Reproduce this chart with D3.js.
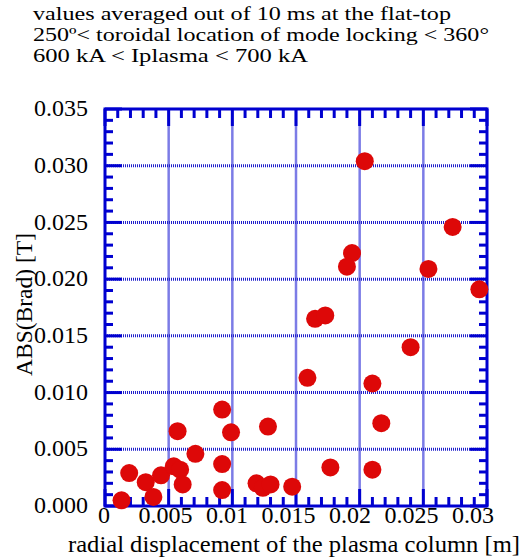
<!DOCTYPE html>
<html>
<head>
<meta charset="utf-8">
<script src="https://cdn.jsdelivr.net/npm/d3@7"></script>
<style>
  body { margin: 0; background: #fff; }
</style>
</head>
<body>
<svg id="chart" width="532" height="559"></svg>
<script>
// radial displacement [m]
var xVals = [0.0013, 0.0019, 0.0032, 0.0038, 0.0044, 0.0054, 0.0059, 0.0061, 0.0057, 0.0071,
             0.0092, 0.0099, 0.0092, 0.0092, 0.0119, 0.0124, 0.0130, 0.0128, 0.0147, 0.0159,
             0.0165, 0.0173, 0.0177, 0.0210, 0.0217, 0.0210, 0.0240, 0.0204, 0.0194, 0.0190,
             0.0273, 0.0254, 0.0294]
// ABS(Brad) [T]
var yVals = [0.0005, 0.0029, 0.0021, 0.0008, 0.0027, 0.0035, 0.0032, 0.0019, 0.0066, 0.0046,
             0.0085, 0.0065, 0.0037, 0.0014, 0.0020, 0.0016, 0.0019, 0.0070, 0.0017, 0.0113,
             0.0165, 0.0168, 0.0034, 0.0108, 0.0073, 0.0032, 0.0140, 0.0304, 0.0223, 0.0211,
             0.0246, 0.0209, 0.0191]

var xTicks = [0, 0.005, 0.01, 0.015, 0.02, 0.025, 0.03]
var xTickLabels = ["0", "0.005", "0.01", "0.015", "0.02", "0.025", "0.03"]
var yTicks = [0, 0.005, 0.01, 0.015, 0.02, 0.025, 0.03, 0.035]
var yTickLabels = ["0.000", "0.005", "0.010", "0.015", "0.020", "0.025", "0.030", "0.035"]

var titleLines = [
  "values averaged out of 10 ms at the flat-top",
  "250\u00ba< toroidal location of mode locking < 360\u00b0",
  "600 kA < Iplasma < 700 kA"
]
var titleWidths = [418, 456, 275]

var serif = "'Liberation Serif'";

var svg = d3.select("#chart"),
    margin = {top: 109, right: 45, bottom: 53, left: 105},
    width  = +svg.attr("width")  - margin.left - margin.right,
    height = +svg.attr("height") - margin.top  - margin.bottom;

var blue = "#0000d0";

var x = d3.scaleLinear().domain([0, 0.03]).range([0, width]);
var y = d3.scaleLinear().domain([0, 0.035]).range([height, 0]);
// tick labels sit a little left of their ticks in the original
var xLab = d3.scaleLinear().domain([0, 0.03]).range([-1, width - 14]);

// title (text in the original is a bit wider than plain Times)
svg.append("g").selectAll("text")
  .data(titleLines)
  .enter().append("text")
    .attr("x", 33)
    .attr("y", function(d, i) { return 20 + i * 21; })
    .attr("textLength", function(d, i) { return titleWidths[i]; })
    .attr("lengthAdjust", "spacingAndGlyphs")
    .style("font-family", serif)
    .style("font-size", "19px")
    .text(function(d) { return d; });

var g = svg.append("g")
  .attr("transform", "translate(" + margin.left + "," + margin.top + ")");

// vertical grid
g.append("g").selectAll("line")
  .data(xTicks.slice(1, -1))
  .enter().append("line")
    .attr("x1", function(d) { return x(d); })
    .attr("x2", function(d) { return x(d); })
    .attr("y1", 0).attr("y2", height)
    .attr("stroke", "#5050dd")
    .attr("stroke-opacity", 0.75)
    .attr("stroke-width", 2.5);

// horizontal grid (dotted)
g.append("g").selectAll("line")
  .data(yTicks.slice(1, -1))
  .enter().append("line")
    .attr("x1", 0).attr("x2", width)
    .attr("y1", function(d) { return y(d); })
    .attr("y2", function(d) { return y(d); })
    .attr("stroke", "#2020cc")
    .attr("stroke-width", 3)
    .attr("stroke-dasharray", "1,1");

// minor / major ticks, drawn inward on all four sides
var minorX = d3.range(0, 31).map(function(i) { return i * 0.001; });
var minorY = d3.range(0, 36).map(function(i) { return i * 0.001; });

function isMajor(v) { return Math.abs(Math.round(v / 0.005) * 0.005 - v) < 1e-9; }

var ticks = g.append("g").attr("stroke", blue).attr("stroke-width", 3);
minorX.forEach(function(v) {
  var len = isMajor(v) ? 17 : 9;
  ticks.append("line").attr("x1", x(v)).attr("x2", x(v)).attr("y1", height).attr("y2", height - len);
  ticks.append("line").attr("x1", x(v)).attr("x2", x(v)).attr("y1", 0).attr("y2", len);
});
minorY.forEach(function(v) {
  var len = isMajor(v) ? 17 : 8;
  ticks.append("line").attr("y1", y(v)).attr("y2", y(v)).attr("x1", 0).attr("x2", len);
  ticks.append("line").attr("y1", y(v)).attr("y2", y(v)).attr("x1", width).attr("x2", width - len);
});

// frame
g.append("rect")
  .attr("width", width).attr("height", height)
  .attr("fill", "none")
  .attr("stroke", blue)
  .attr("stroke-width", 3);

// points
g.append("g").selectAll("circle")
  .data(xVals.map(function(d, i) { return [d, yVals[i]]; }))
  .enter().append("circle")
    .attr("cx", function(d) { return x(d[0]); })
    .attr("cy", function(d) { return y(d[1]); })
    .attr("r", 9)
    .attr("fill", "#dd0808");

// tick labels
g.append("g").selectAll("text")
  .data(yTicks)
  .enter().append("text")
    .attr("x", -17)
    .attr("y", function(d) { return y(d); })
    .attr("dy", "0.3em")
    .attr("text-anchor", "end")
    .style("font-family", serif)
    .style("font-size", "24px")
    .text(function(d, i) { return yTickLabels[i]; });

g.append("g").selectAll("text")
  .data(xTicks)
  .enter().append("text")
    .attr("x", function(d) { return xLab(d); })
    .attr("y", height + 17)
    .attr("text-anchor", "middle")
    .style("font-family", serif)
    .style("font-size", "24px")
    .text(function(d, i) { return xTickLabels[i]; });

// axis titles
g.append("text")
  .attr("x", width / 2 - 2)
  .attr("y", height + 46)
  .attr("text-anchor", "middle")
  .attr("textLength", 452)
  .attr("lengthAdjust", "spacingAndGlyphs")
  .style("font-family", serif)
  .style("font-size", "23px")
  .text("radial displacement of the plasma column [m]");

g.append("text")
  .attr("transform", "translate(" + (32 - margin.left) + "," + (height / 2 - 3) + ") rotate(-90)")
  .attr("text-anchor", "middle")
  .attr("textLength", 143)
  .attr("lengthAdjust", "spacingAndGlyphs")
  .style("font-family", serif)
  .style("font-size", "23px")
  .text("ABS(Brad) [T]");
</script>
</body>
</html>
